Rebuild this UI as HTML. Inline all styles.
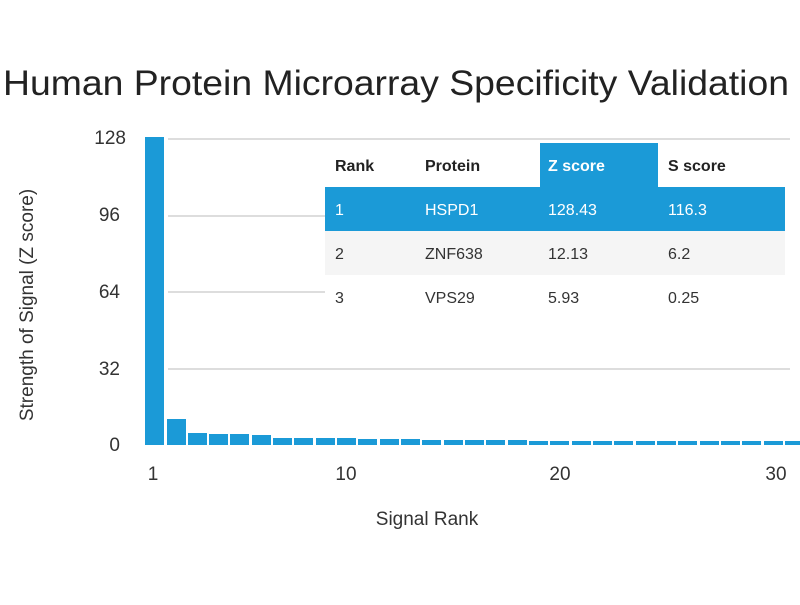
<!DOCTYPE html>
<html><head><style>
body{margin:0;background:#fff;font-family:"Liberation Sans",sans-serif;}
</style></head><body>
<svg width="800" height="600" xmlns="http://www.w3.org/2000/svg" font-family="Liberation Sans, sans-serif">
<text x="3" y="95" font-size="35" textLength="786" lengthAdjust="spacingAndGlyphs" fill="#222">Human Protein Microarray Specificity Validation</text>
<g stroke="#ddd" stroke-width="2">
<line x1="168" y1="139" x2="790" y2="139"/>
<line x1="168" y1="216" x2="790" y2="216"/>
<line x1="168" y1="292" x2="790" y2="292"/>
<line x1="168" y1="369" x2="790" y2="369"/>
</g>
<g font-size="19" fill="#333" text-anchor="end">
<text x="126" y="144">128</text><text x="120" y="221">96</text><text x="120" y="298">64</text><text x="120" y="375">32</text><text x="120" y="451">0</text>
</g>
<text transform="translate(33,305) rotate(-90)" font-size="19" fill="#333" text-anchor="middle">Strength of Signal (Z score)</text>
<g font-size="19" fill="#333" text-anchor="middle">
<text x="153" y="480">1</text><text x="346" y="480">10</text><text x="560" y="480">20</text><text x="776" y="480">30</text>
</g>
<text x="427" y="525" font-size="19" fill="#333" text-anchor="middle">Signal Rank</text>
<g fill="#1b9ad7">
<rect x="145" y="137" width="19" height="308"/>
<rect x="167" y="419" width="19" height="26"/>
<rect x="188" y="433" width="19" height="12"/>
<rect x="209" y="434" width="19" height="11"/>
<rect x="230" y="434" width="19" height="11"/>
<rect x="252" y="435" width="19" height="10"/>
<rect x="273" y="438" width="19" height="7"/>
<rect x="294" y="438" width="19" height="7"/>
<rect x="316" y="438" width="19" height="7"/>
<rect x="337" y="438" width="19" height="7"/>
<rect x="358" y="439" width="19" height="6"/>
<rect x="380" y="439" width="19" height="6"/>
<rect x="401" y="439" width="19" height="6"/>
<rect x="422" y="440" width="19" height="5"/>
<rect x="444" y="440" width="19" height="5"/>
<rect x="465" y="440" width="19" height="5"/>
<rect x="486" y="440" width="19" height="5"/>
<rect x="508" y="440" width="19" height="5"/>
<rect x="529" y="441" width="19" height="4"/>
<rect x="550" y="441" width="19" height="4"/>
<rect x="572" y="441" width="19" height="4"/>
<rect x="593" y="441" width="19" height="4"/>
<rect x="614" y="441" width="19" height="4"/>
<rect x="636" y="441" width="19" height="4"/>
<rect x="657" y="441" width="19" height="4"/>
<rect x="678" y="441" width="19" height="4"/>
<rect x="700" y="441" width="19" height="4"/>
<rect x="721" y="441" width="19" height="4"/>
<rect x="742" y="441" width="19" height="4"/>
<rect x="764" y="441" width="19" height="4"/>
<rect x="785" y="441" width="15" height="4"/>
</g>
<rect x="325" y="140" width="465" height="180" fill="#fff"/>
<rect x="540" y="143" width="118" height="45" fill="#1b9ad7"/>
<rect x="325" y="187" width="460" height="44" fill="#1b9ad7"/>
<rect x="325" y="231" width="460" height="44" fill="#f5f5f5"/>
<g font-size="16" fill="#222" font-weight="bold">
<text x="335" y="171">Rank</text><text x="425" y="171">Protein</text><text x="548" y="171" fill="#fff">Z score</text><text x="668" y="171">S score</text>
</g>
<g font-size="16" fill="#fff">
<text x="335" y="215">1</text><text x="425" y="215">HSPD1</text><text x="548" y="215">128.43</text><text x="668" y="215">116.3</text>
</g>
<g font-size="16" fill="#333">
<text x="335" y="259">2</text><text x="425" y="259">ZNF638</text><text x="548" y="259">12.13</text><text x="668" y="259">6.2</text>
<text x="335" y="303">3</text><text x="425" y="303">VPS29</text><text x="548" y="303">5.93</text><text x="668" y="303">0.25</text>
</g>
</svg>
</body></html>
